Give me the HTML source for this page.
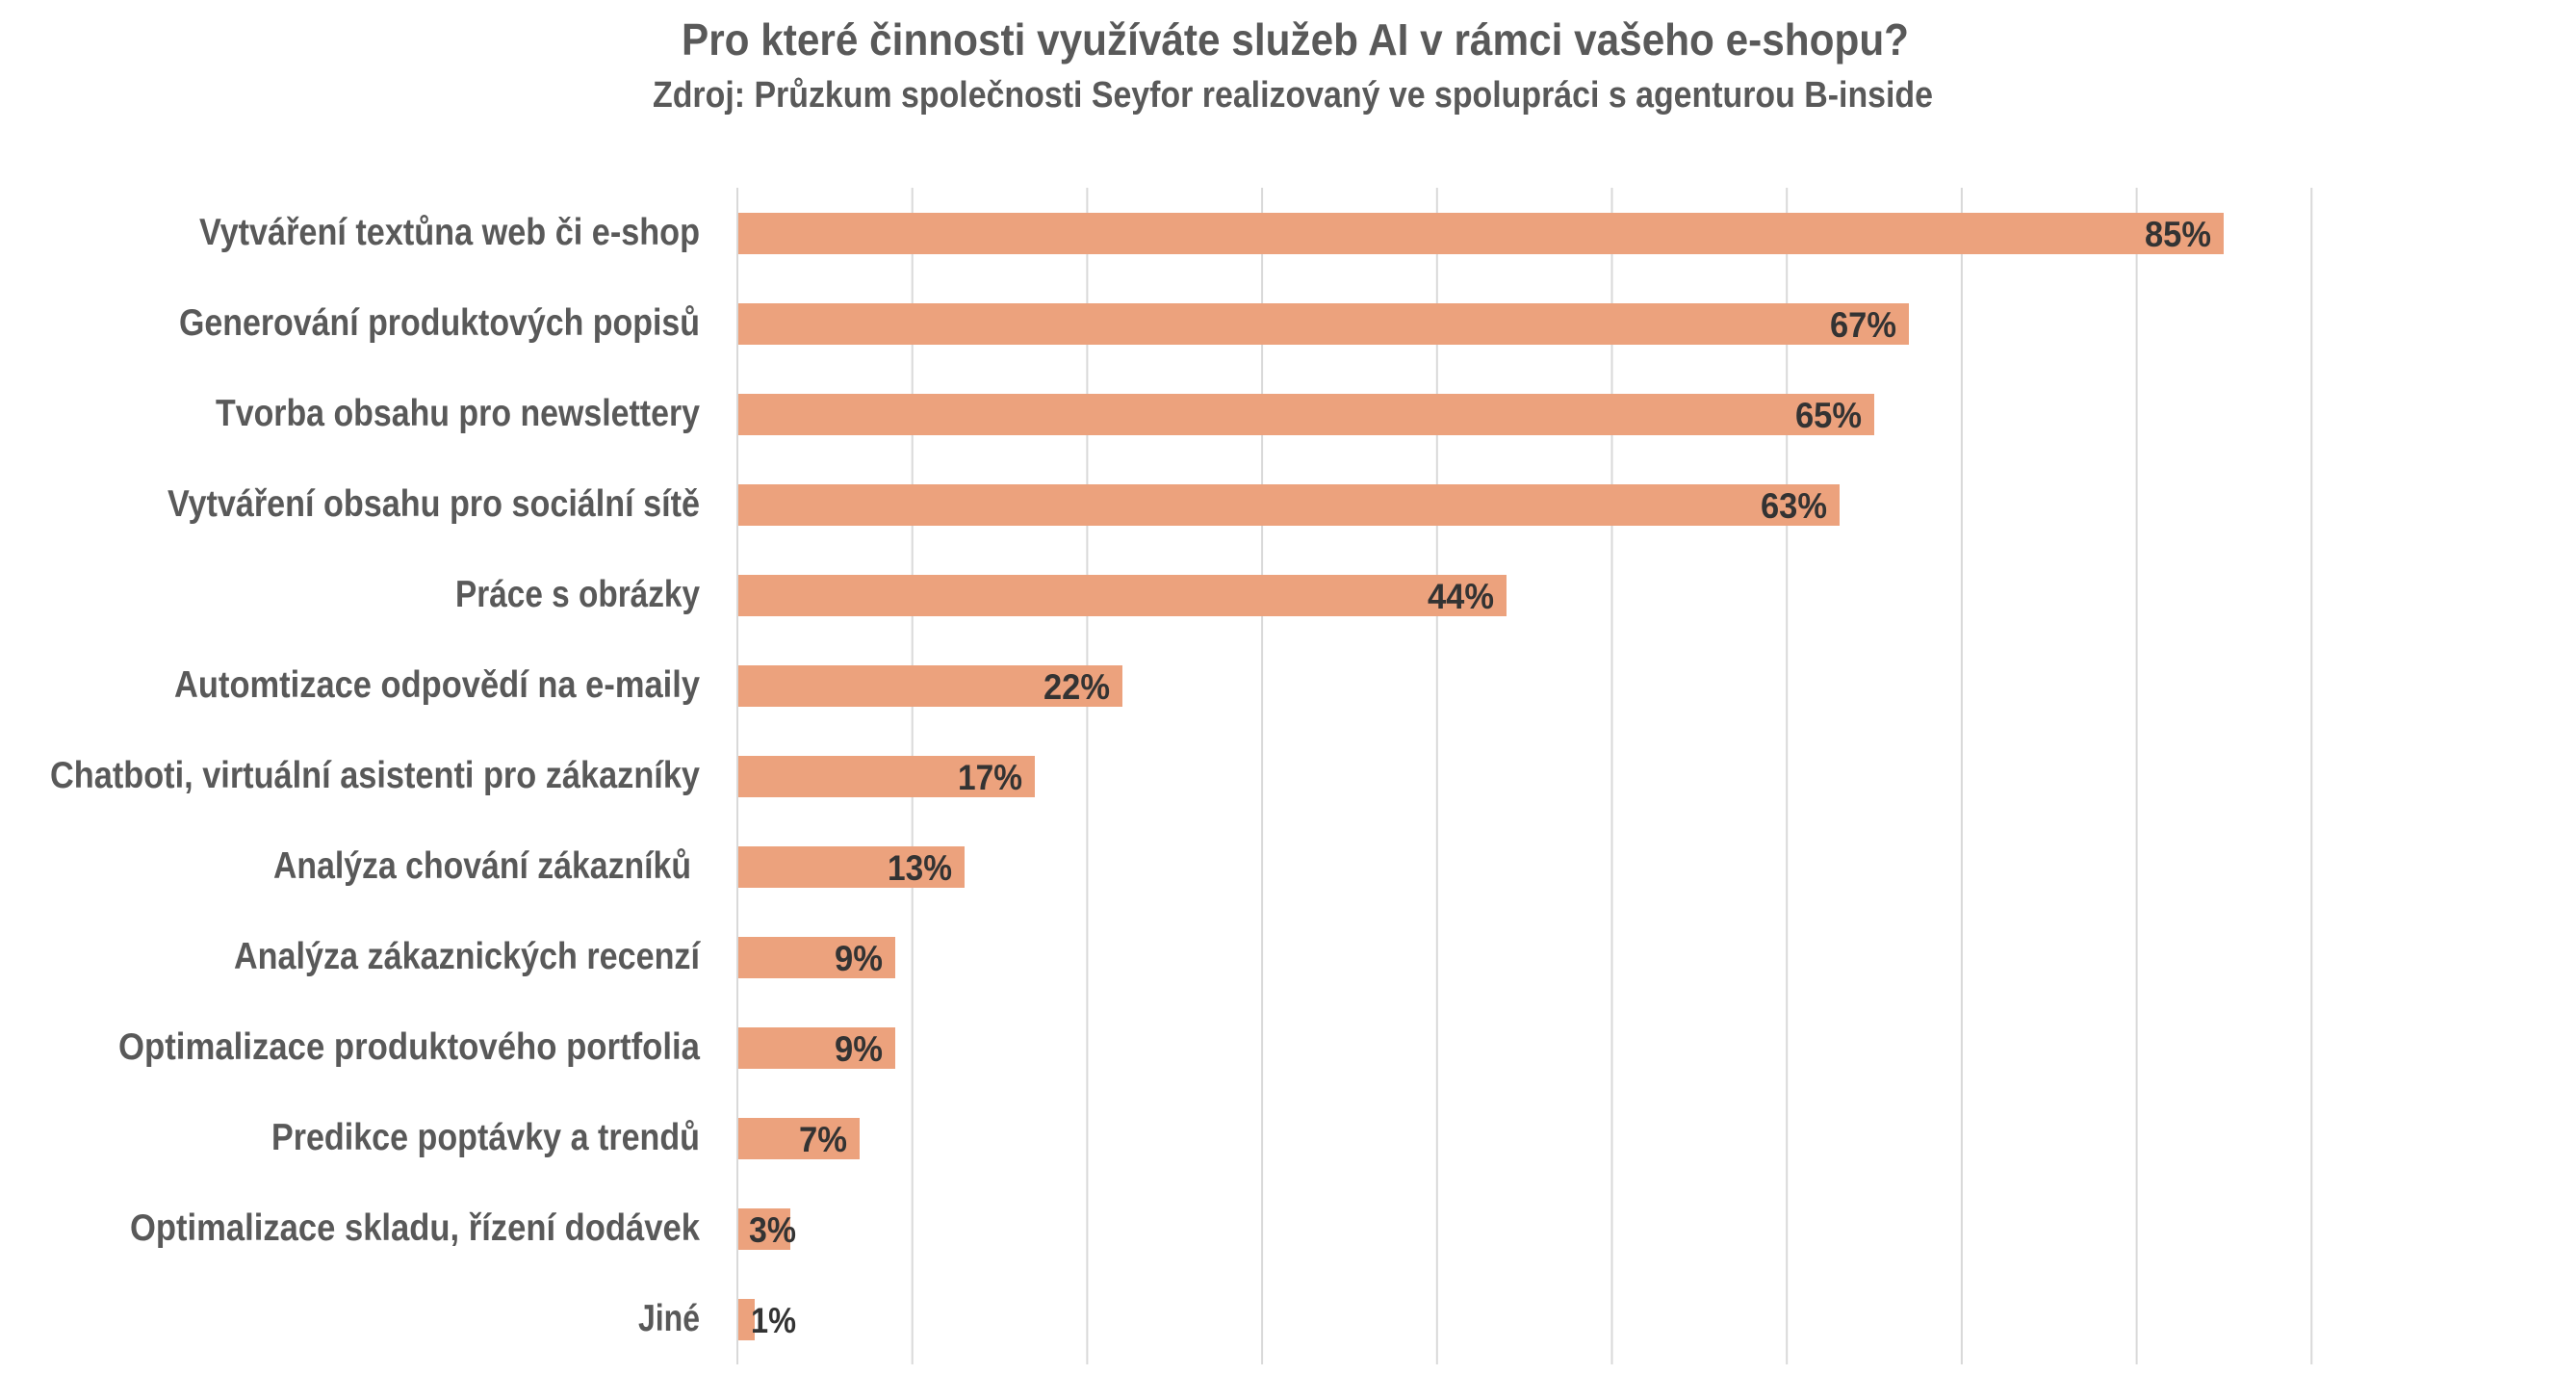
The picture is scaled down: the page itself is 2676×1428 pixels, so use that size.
<!DOCTYPE html>
<html><head><meta charset="utf-8"><style>
html,body{margin:0;padding:0;background:#fff;}
svg{display:block;}
</style></head><body>
<svg width="2676" height="1428" viewBox="0 0 2676 1428" xmlns="http://www.w3.org/2000/svg" font-family="'Liberation Sans', 'DejaVu Sans', sans-serif" font-weight="bold">
<rect width="2676" height="1428" fill="#fff"/>
<text x="708" y="57" font-size="46" fill="#595959" textLength="1275" lengthAdjust="spacingAndGlyphs">Pro které činnosti využíváte služeb AI v rámci vašeho e-shopu?</text>
<text x="678" y="111" font-size="38" fill="#595959" textLength="1330" lengthAdjust="spacingAndGlyphs">Zdroj: Průzkum společnosti Seyfor realizovaný ve spolupráci s agenturou B-inside</text>
<g stroke="#d9d9d9" stroke-width="2">
<line x1="766" y1="195" x2="766" y2="1417"/>
<line x1="947.7" y1="195" x2="947.7" y2="1417"/>
<line x1="1129.4" y1="195" x2="1129.4" y2="1417"/>
<line x1="1311.1" y1="195" x2="1311.1" y2="1417"/>
<line x1="1492.8" y1="195" x2="1492.8" y2="1417"/>
<line x1="1674.5" y1="195" x2="1674.5" y2="1417"/>
<line x1="1856.2" y1="195" x2="1856.2" y2="1417"/>
<line x1="2037.9" y1="195" x2="2037.9" y2="1417"/>
<line x1="2219.6" y1="195" x2="2219.6" y2="1417"/>
<line x1="2401.3" y1="195" x2="2401.3" y2="1417"/>
</g>
<g fill="#eca27d">
<rect x="767" y="221" width="1543" height="43"/>
<rect x="767" y="315" width="1216" height="43"/>
<rect x="767" y="409" width="1180" height="43"/>
<rect x="767" y="503" width="1144" height="43"/>
<rect x="767" y="597" width="798" height="43"/>
<rect x="767" y="691" width="399" height="43"/>
<rect x="767" y="785" width="308" height="43"/>
<rect x="767" y="879" width="235" height="43"/>
<rect x="767" y="973" width="163" height="43"/>
<rect x="767" y="1067" width="163" height="43"/>
<rect x="767" y="1161" width="126" height="43"/>
<rect x="767" y="1255" width="54" height="43"/>
<rect x="767" y="1349" width="17" height="43"/>
</g>
<g font-size="39" fill="#595959" text-anchor="end">
<text x="727" y="254" textLength="520" lengthAdjust="spacingAndGlyphs">Vytváření textůna web či e-shop</text>
<text x="727" y="348" textLength="541" lengthAdjust="spacingAndGlyphs">Generování produktových popisů</text>
<text x="727" y="442" textLength="503" lengthAdjust="spacingAndGlyphs">Tvorba obsahu pro newslettery</text>
<text x="727" y="536" textLength="553" lengthAdjust="spacingAndGlyphs">Vytváření obsahu pro sociální sítě</text>
<text x="727" y="630" textLength="254" lengthAdjust="spacingAndGlyphs">Práce s obrázky</text>
<text x="727" y="724" textLength="546" lengthAdjust="spacingAndGlyphs">Automtizace odpovědí na e-maily</text>
<text x="727" y="818" textLength="675" lengthAdjust="spacingAndGlyphs">Chatboti, virtuální asistenti pro zákazníky</text>
<text x="718" y="912" textLength="434" lengthAdjust="spacingAndGlyphs">Analýza chování zákazníků</text>
<text x="727" y="1006" textLength="484" lengthAdjust="spacingAndGlyphs">Analýza zákaznických recenzí</text>
<text x="727" y="1100" textLength="604" lengthAdjust="spacingAndGlyphs">Optimalizace produktového portfolia</text>
<text x="727" y="1194" textLength="445" lengthAdjust="spacingAndGlyphs">Predikce poptávky a trendů</text>
<text x="727" y="1288" textLength="592" lengthAdjust="spacingAndGlyphs">Optimalizace skladu, řízení dodávek</text>
<text x="727" y="1382" textLength="64" lengthAdjust="spacingAndGlyphs">Jiné</text>
</g>
<g font-size="37" fill="#333333" text-anchor="end">
<text x="2297" y="256" textLength="69" lengthAdjust="spacingAndGlyphs">85%</text>
<text x="1970" y="350" textLength="69" lengthAdjust="spacingAndGlyphs">67%</text>
<text x="1934" y="444" textLength="69" lengthAdjust="spacingAndGlyphs">65%</text>
<text x="1898" y="538" textLength="69" lengthAdjust="spacingAndGlyphs">63%</text>
<text x="1552" y="632" textLength="69" lengthAdjust="spacingAndGlyphs">44%</text>
<text x="1153" y="726" textLength="69" lengthAdjust="spacingAndGlyphs">22%</text>
<text x="1062" y="820" textLength="67" lengthAdjust="spacingAndGlyphs">17%</text>
<text x="989" y="914" textLength="67" lengthAdjust="spacingAndGlyphs">13%</text>
<text x="917" y="1008" textLength="50" lengthAdjust="spacingAndGlyphs">9%</text>
<text x="917" y="1102" textLength="50" lengthAdjust="spacingAndGlyphs">9%</text>
<text x="880" y="1196" textLength="50" lengthAdjust="spacingAndGlyphs">7%</text>
<text x="827" y="1290" textLength="49" lengthAdjust="spacingAndGlyphs">3%</text>
<text x="827" y="1384" textLength="47" lengthAdjust="spacingAndGlyphs">1%</text>
</g>
</svg>
</body></html>
